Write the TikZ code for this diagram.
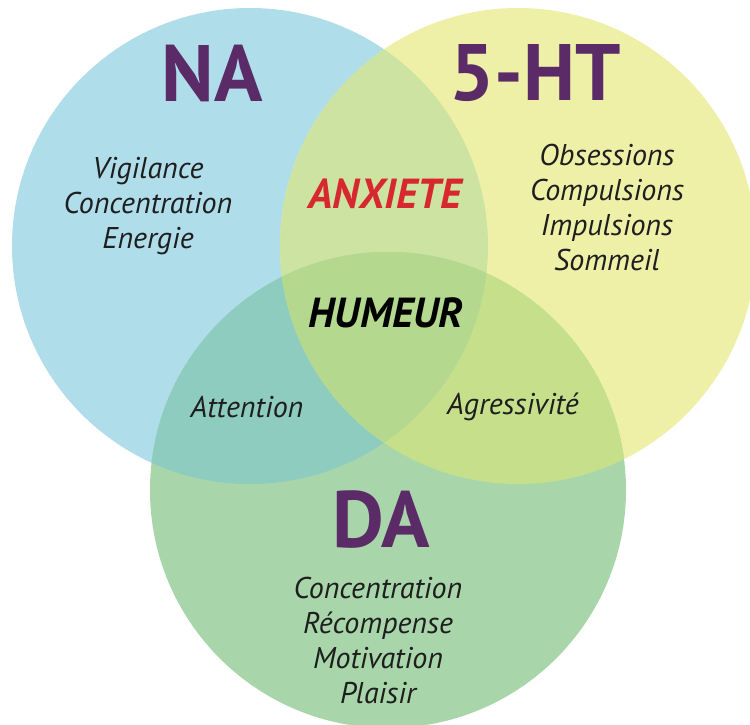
\documentclass[tikz,border=0pt]{standalone}
\usepackage{fontspec}
\setmainfont{PT Sans}
\usetikzlibrary{positioning}
\definecolor{naBlue}{HTML}{B0DDEA}
\definecolor{htYellow}{HTML}{EFF0A8}
\definecolor{daGreen}{HTML}{A8D6AA}
\definecolor{naHt}{HTML}{CDE3A2}
\definecolor{naDa}{HTML}{8DCCBF}
\definecolor{htDa}{HTML}{C6DF8A}
\definecolor{allThree}{HTML}{B4D98E}
\definecolor{namePurple}{HTML}{5A2B66}
\definecolor{anxRed}{HTML}{D7282F}
\definecolor{textDark}{HTML}{1E1E1E}
\tikzset{
  % Radius of every circle
  rad/.style={radius=238pt},
  % Transmitter name
  tname/.style={font=\fontsize{80}{80}\selectfont\bfseries, text=namePurple,
    inner sep=0pt},
  % List of functions
  flist/.style={font=\fontsize{30}{35}\selectfont\itshape, text=textDark,
    align=center, inner sep=0pt},
  % Label in an overlap
  olabel/.style={font=\fontsize{42}{42}\selectfont\bfseries\itshape,
    inner sep=0pt},
}

\begin{document}
\begin{tikzpicture}[x=1pt, y=-1pt]
  \fill[white] (0,0) rectangle (750,724);
  \useasboundingbox (0,0) rectangle (750,724);

  \coordinate (cNA) at (250,246);
  \coordinate (cHT) at (518,246);
  \coordinate (cDA) at (388,490);

  % single circles
  \fill[naBlue] (cNA) circle[rad];
  \fill[htYellow] (cHT) circle[rad];
  \fill[daGreen] (cDA) circle[rad];

  % overlaps
  \begin{scope}
    \clip (cNA) circle[rad];
    \fill[naHt] (cHT) circle[rad];
    \fill[naDa] (cDA) circle[rad];
  \end{scope}
  \begin{scope}
    \clip (cHT) circle[rad];
    \fill[htDa] (cDA) circle[rad];
    \clip (cDA) circle[rad];
    \fill[allThree] (cNA) circle[rad];
  \end{scope}

  % names
  \node[tname] (na) at (212,73) {NA};
  \node[tname] (ht) at (535,73) {5-HT};
  \node[tname] (da) at (381,520) {DA};

  % functions
  \node[flist] (naList) at (148,206) {Vigilance\\Concentration\\Energie};
  \node[flist] (htList) at (607,207) {Obsessions\\Compulsions\\Impulsions\\Sommeil};
  \node[flist] (daList) at (378,640) {Concentration\\Récompense\\Motivation\\Plaisir};
  \node[flist] (att) at (247,407) {Attention};
  \node[flist] (agr) at (513,407) {Agressivité};

  \node[olabel, text=anxRed] (anx) at (385,194) {ANXIETE};
  \node[olabel, text=black] (hum) at (386,313) {HUMEUR};
\end{tikzpicture}
\end{document}
